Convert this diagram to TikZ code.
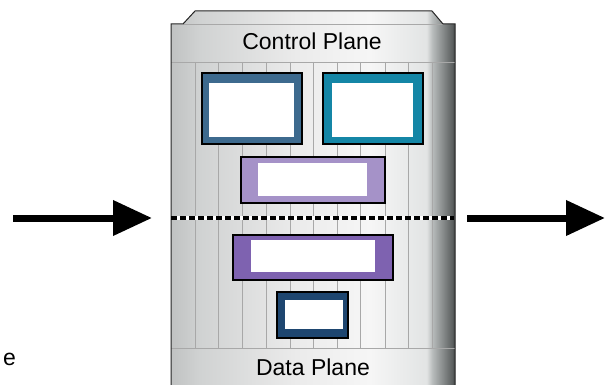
\documentclass[tikz,border=0pt]{standalone}
\usepackage{fontspec}
\setmainfont{Liberation Sans}
\usetikzlibrary{arrows.meta}
\definecolor{c0}{HTML}{C0C2C2}
\definecolor{c1}{HTML}{D0D2D2}
\definecolor{c2}{HTML}{EBEBEB}
\definecolor{c3}{HTML}{F6F6F6}
\definecolor{c4}{HTML}{E2E4E4}
\definecolor{c5}{HTML}{B8BCBC}
\definecolor{c6}{HTML}{5C6060}
\definecolor{c7}{HTML}{404444}
\definecolor{stripec}{HTML}{A8A8A8}
\definecolor{fsteel}{HTML}{3D6A8E}
\definecolor{fteal}{HTML}{1486A6}
\definecolor{flilac}{HTML}{A592C8}
\definecolor{fpurple}{HTML}{7E62B0}
\definecolor{fnavy}{HTML}{1E4670}
\pgfdeclarehorizontalshading{chassis}{100bp}{color(0bp)=(c0); color(25bp)=(c0); color(30bp)=(c1); color(47bp)=(c2); color(60bp)=(c3); color(70bp)=(c4); color(71bp)=(c5); color(74.5bp)=(c6); color(75bp)=(c7); color(100bp)=(c7)}
\tikzset{
  outerbox/.style={draw=black, line width=1.3pt, inner sep=0pt, outer sep=0pt, anchor=north west},
  innerbox/.style={fill=white, inner sep=0pt, outer sep=0pt, anchor=north west},
  stripe/.style={draw=stripec, line width=0.6pt},
  lbl/.style={font=\fontsize{23}{26}\selectfont, anchor=base, inner sep=0pt},
  bigarrow/.style={line width=7pt, -{Triangle[length=39pt,width=34pt]}},
}
\begin{document}
\begin{tikzpicture}[x=1pt,y=-1pt]
\useasboundingbox (0,0) rectangle (610,385);
% chassis body
\shade[shading=chassis] (171,386) -- (171,24) -- (183,24) -- (195,11) -- (432,11) -- (443,24) -- (455,24) -- (455,386) -- cycle;
% stripes
\foreach \x in {195,218,242,266,290,313,337,360,385,408,432}
  \draw[stripe] (\x,62) -- (\x,348);
\draw[stripe] (171,62) -- (455,62);
\draw[stripe] (171,348) -- (455,348);
\draw[draw=stripec, line width=0.6pt] (183,24) -- (443,24);
% outline
\draw[draw=black!85, line width=1pt] (171,386) -- (171,24) -- (183,24) -- (195,11) -- (432,11) -- (443,24) -- (455,24) -- (455,386);
% labels
\node[lbl] (cp) at (312,50) {Control Plane};
\node[lbl] (dp) at (313,375) {Data Plane};
\node[lbl] (e) at (9.5,365) {e};
% boxes
\node[outerbox, fill=fsteel, minimum width=100pt, minimum height=71pt] (b1) at (202,73) {};
\node[innerbox, minimum width=85pt, minimum height=54pt] (b1i) at (209,83) {};
\node[outerbox, fill=fteal, minimum width=100pt, minimum height=71pt] (b2) at (323,73) {};
\node[innerbox, minimum width=81pt, minimum height=54pt] (b2i) at (332,83) {};
\node[outerbox, fill=flilac, minimum width=144pt, minimum height=46pt] (b3) at (241,157) {};
\node[innerbox, minimum width=109pt, minimum height=33pt] (b3i) at (258,163) {};
\node[outerbox, fill=fpurple, minimum width=160pt, minimum height=45pt] (b4) at (233,235) {};
\node[innerbox, minimum width=124pt, minimum height=32pt] (b4i) at (251,240) {};
\node[outerbox, fill=fnavy, minimum width=71pt, minimum height=46pt] (b5) at (277,292) {};
\node[innerbox, minimum width=58pt, minimum height=29pt] (b5i) at (285,300) {};
% dashed divider
\coordinate (dl) at (171,218);
\coordinate (dr) at (454,218);
\draw[white, line width=4pt] (dl) -- (dr);
\draw[black, line width=4pt, dash pattern=on 6pt off 3pt] (dl) -- (dr);
% arrows
\coordinate (inA) at (13,218);
\coordinate (inB) at (152,218);
\coordinate (outA) at (467,218);
\coordinate (outB) at (605,218);
\draw[bigarrow] (inA) -- (inB);
\draw[bigarrow] (outA) -- (outB);
\end{tikzpicture}
\end{document}
